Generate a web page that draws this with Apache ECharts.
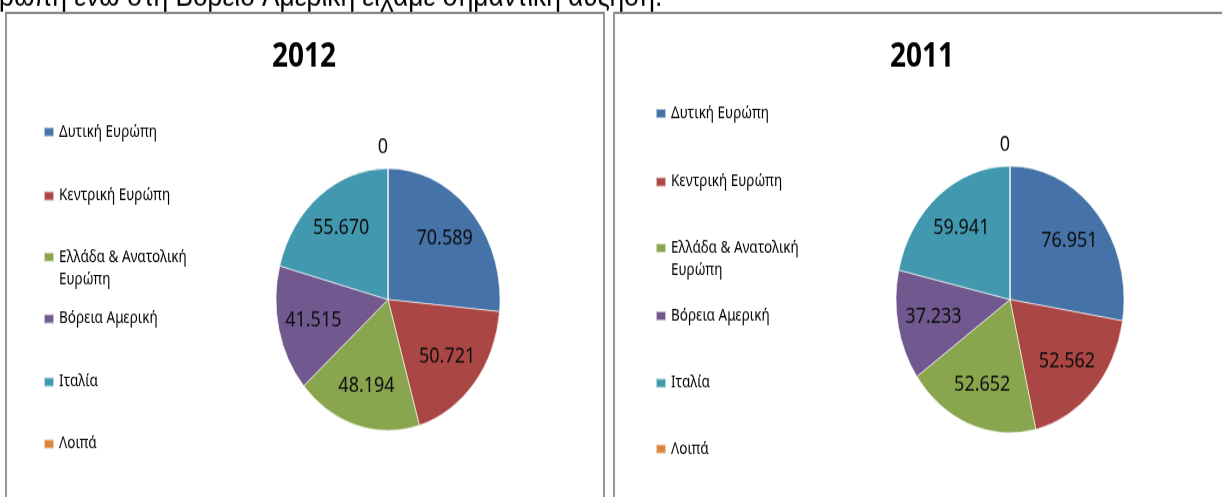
<!DOCTYPE html>
<html>
<head>
<meta charset="utf-8">
<script src="https://cdn.jsdelivr.net/npm/echarts@6/dist/echarts.min.js"></script>
<style>
  html { overflow: hidden; }
  html, body { margin: 0; padding: 0; background: #fff; }
  #wrap { width: 1222px; height: 497px; position: relative; overflow: hidden; }
  /* the source picture is stretched vertically, so the whole chart is too */
  #main { position: absolute; left: 0; top: 0; width: 1222px; height: 425px; transform: scaleY(1.17); transform-origin: 0 0; }
</style>
</head>
<body>
<div id="wrap"><div id="main"></div></div>
<script>
var regions = ['Δυτική Ευρώπη', 'Κεντρική Ευρώπη', 'Ελλάδα & Ανατολική Ευρώπη', 'Βόρεια Αμερική', 'Ιταλία', 'Λοιπά'];
var colors = ['#4572A7', '#AA4643', '#89A54E', '#71588F', '#4198AF', '#DB843D'];
var years = ['2012', '2011'];
var values2012 = [70589, 50721, 48194, 41515, 55670, 0];
var values2011 = [76951, 52562, 52652, 37233, 59941, 0];
var topLine = 'ρώπη ενώ στη Βόρειο Αμερική είχαμε σημαντική αύξηση.';

// greek thousands separator
function fmt(v) {
  return String(v).replace(/\B(?=(\d{3})+(?!\d))/g, '.');
}

var chart = echarts.init(document.getElementById('main'));

var panels = [
  { year: years[0], values: values2012, center: [388, 256], radius: 112, titleX: 304, legendX: 43,
    legendY: [112.8, 167.5, 219.7, 272.6, 326.5, 379.5] },
  { year: years[1], values: values2011, center: [1010, 256], radius: 114, titleX: 922, legendX: 655,
    legendY: [97, 155.5, 212, 270, 327.4, 383.8] }
];

function pieSeries(p) {
  return {
    type: 'pie',
    name: p.year,
    center: p.center,
    radius: p.radius,
    startAngle: 90,
    clockwise: true,
    animation: false,
    avoidLabelOverlap: false,
    itemStyle: { borderColor: 'rgba(255,255,255,0.6)', borderWidth: 1 },
    label: {
      position: 'inside',
      formatter: function (d) { return fmt(d.value); },
      color: '#0d0d0d',
      fontFamily: 'Noto Sans',
      fontSize: 18
    },
    labelLine: { show: false },
    // push the inside labels a bit further out, like excel does
    labelLayout: function (prm) {
      if (p.values[prm.dataIndex] === 0) return {};
      var r = prm.labelRect;
      var mx = r.x + r.width / 2, my = r.y + r.height / 2;
      return { dx: (mx - p.center[0]) * 0.3, dy: (my - p.center[1]) * 0.3 };
    },
    data: regions.map(function (name, i) {
      if (p.values[i] === 0) {
        return { name: name, value: 0,
          label: { position: 'outside', distanceToLabelLine: 0 },
          labelLine: { show: false, length: 18, length2: 0 } };
      }
      return { name: name, value: p.values[i] };
    })
  };
}

var legends = [];
panels.forEach(function (p) {
  regions.forEach(function (name, i) {
    var wrap = name.indexOf('&') > -1;
    legends.push({
      data: [name],
      orient: 'vertical',
      left: p.legendX,
      top: wrap ? p.legendY[i] - 28.5 : p.legendY[i] - 7,
      padding: 0,
      icon: 'rect',
      itemWidth: 10,
      itemHeight: 8,
      selectedMode: false,
      formatter: wrap ? function (n) { return ' \n' + n.replace(/ (\S+)$/, '\n$1'); } : '{name}',
      textStyle: { fontFamily: 'Noto Sans', fontSize: 13.5, color: '#000', lineHeight: wrap ? 19 : 14 }
    });
  });
});

chart.setOption({
  animation: false,
  color: colors,
  title: panels.map(function (p) {
    return {
      text: p.year,
      left: p.titleX,
      top: 34.5,
      textAlign: 'center',
      padding: 0,
      textStyle: { fontFamily: 'Noto Sans', fontWeight: 'bold', fontSize: 28, lineHeight: 30, color: '#000' }
    };
  }),
  legend: legends,
  graphic: [
    { type: 'rect', silent: true, shape: { x: 6, y: 11, width: 598, height: 500 },
      style: { fill: 'none', stroke: '#8a8a8a', lineWidth: 1.8 } },
    { type: 'rect', silent: true, shape: { x: 614, y: 11, width: 700, height: 500 },
      style: { fill: 'none', stroke: '#8a8a8a', lineWidth: 1.8 } },
    { type: 'text', silent: true, x: -1, y: 10.5,
      style: { text: topLine, fontFamily: 'Liberation Sans', fontSize: 26.3, fill: '#000', verticalAlign: 'bottom' } }
  ],
  series: panels.map(pieSeries)
});
</script>
</body>
</html>
